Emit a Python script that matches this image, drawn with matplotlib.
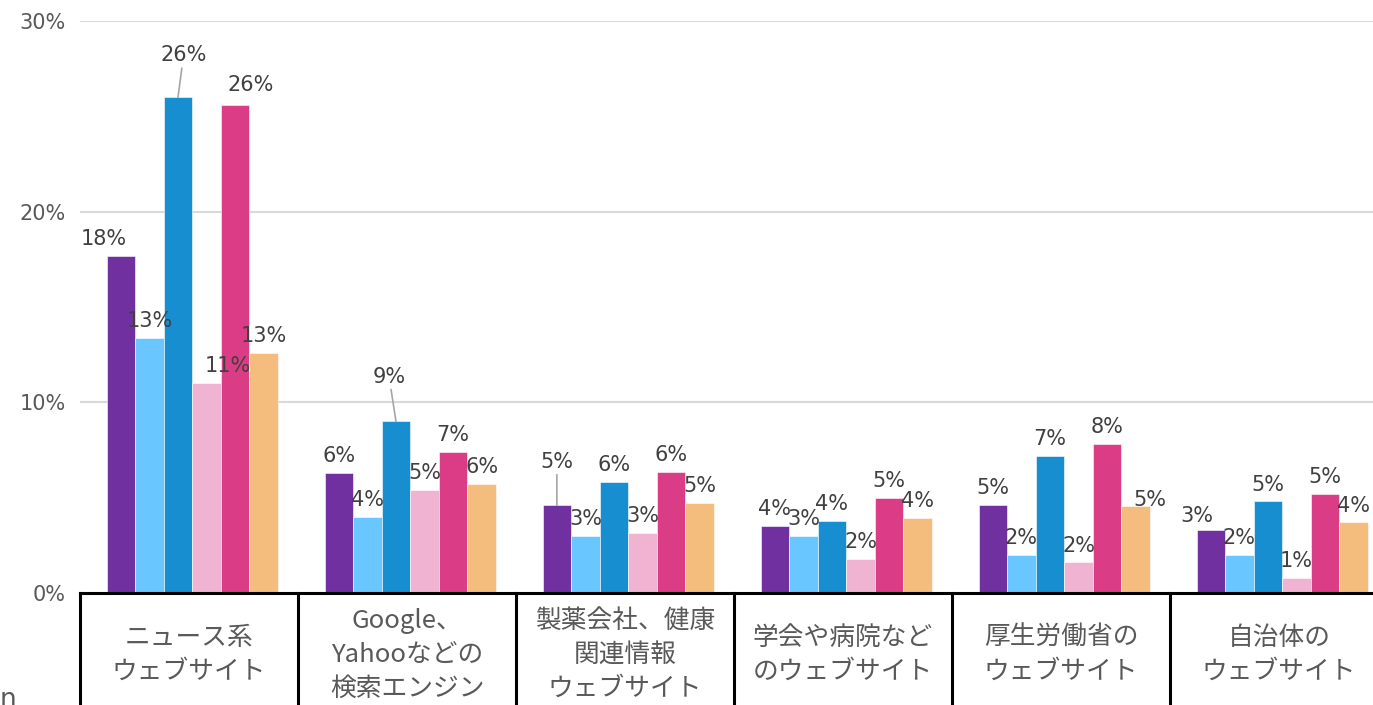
import numpy as np
import matplotlib.pyplot as plt

plt.rcParams['font.family'] = ['DejaVu Sans', 'Noto Sans CJK JP']

# categories (情報源) and the six series, in percent
categories = ['ニュース系\nウェブサイト',
              'Google、\nYahooなどの\n検索エンジン',
              '製薬会社、健康\n関連情報\nウェブサイト',
              '学会や病院など\nのウェブサイト',
              '厚生労働省の\nウェブサイト',
              '自治体の\nウェブサイト']
s1 = [17.7, 6.3, 4.6, 3.5, 4.6, 3.3]
s2 = [13.4, 4.0, 3.0, 3.0, 2.0, 2.0]
s3 = [26.0, 9.0, 5.8, 3.8, 7.2, 4.8]
s4 = [11.0, 5.4, 3.15, 1.8, 1.6, 0.8]
s5 = [25.6, 7.4, 6.35, 5.0, 7.8, 5.2]
s6 = [12.6, 5.7, 4.7, 3.95, 4.55, 3.7]
yticks = [0, 10, 20, 30]

series = [s1, s2, s3, s4, s5, s6]
colors = ['#7030A0', '#69C6FF', '#168ECF', '#F0B3D1', '#DB3C86', '#F4BD7D']

# label nudges (series, group) -> (dx, dy) in points; leader lines where the label was moved up
nudge = {(0, 0): (-12, 0), (3, 0): (15, 0), (2, 0): (4, 18), (2, 1): (-5, 20),
         (0, 2): (0, 19), (5, 4): (10, -8), (0, 5): (-10, -2), (4, 0): (11, 2)}
leader = {(2, 0), (2, 1), (0, 2)}

W, H = 1373, 705
fig = plt.figure(figsize=(W / 100, H / 100), dpi=100)
ax = fig.add_axes([80 / W, (H - 593) / H, (1388 - 80) / W, 572 / H])

x = np.arange(len(categories))
bw = 0.131
for i, (vals, c) in enumerate(zip(series, colors)):
    pos = x + 0.015 + (i - 2.5) * bw
    ax.bar(pos, vals, width=bw, color=c, edgecolor='white', linewidth=0.4, zorder=3)
    for j, (px, v) in enumerate(zip(pos, vals)):
        dx, dy = nudge.get((i, j), (0, 0))
        arrow = dict(arrowstyle='-', color='#A6A6A6', lw=1.2, shrinkA=0, shrinkB=0) \
            if (i, j) in leader else None
        ax.annotate(f'{v:.0f}%', (px, v), xytext=(dx, 5 + dy), textcoords='offset points',
                    ha='center', va='bottom', fontsize=15, color='#404040', zorder=4,
                    arrowprops=arrow)

ax.set_xlim(-0.5, len(categories) - 0.5)
ax.set_ylim(0, 30)
ax.set_yticks(yticks)
ax.set_yticklabels([f'{t}%' for t in yticks], fontsize=15, color='#595959')
ax.tick_params(axis='y', length=0, pad=10)
ax.set_xticks([])
ax.grid(axis='y', color='#D9D9D9', linewidth=1.5, zorder=0)
for s in ax.spines.values():
    s.set_visible(False)

# category boxes under the axis
ax.axhline(0, color='black', linewidth=2.2, zorder=5, clip_on=False)
for b in np.arange(len(categories) + 1) - 0.5:
    ax.plot([b, b], [0, -8], color='black', linewidth=2.2, clip_on=False, zorder=5)
for xi, lab in zip(x, categories):
    ax.text(xi, -3.25, lab, ha='center', va='center', fontsize=18.5, color='#595959',
            family=['Noto Sans CJK JP', 'DejaVu Sans'], linespacing=1.38)

fig.text(0.0, -0.012, 'n', fontsize=19, color='#595959', va='bottom', ha='left')

fig.savefig('out.png', dpi=100)
